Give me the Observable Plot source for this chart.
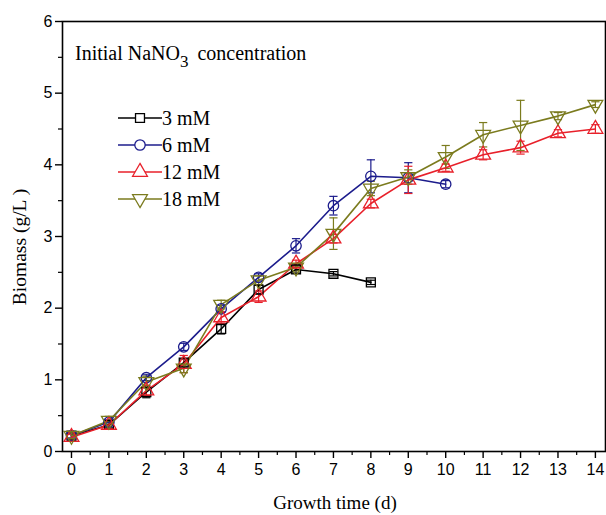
<!DOCTYPE html>
<html>
<head>
<meta charset="utf-8">
<script src="https://cdn.jsdelivr.net/npm/d3@7"></script>
<script src="https://cdn.jsdelivr.net/npm/@observablehq/plot@0.6"></script>
<style>
  html, body { margin: 0; padding: 0; background: #fff; }
  #chart { width: 606px; height: 515px; }
</style>
</head>
<body>
<div id="chart"></div>
<script>
// ---- data ----
const days = [0, 1, 2, 3, 4, 5, 6, 7, 8, 9, 10, 11, 12, 13, 14];
const seriesNames = ["3 mM", "6 mM", "12 mM", "18 mM"];
const mM3  = [0.22, 0.37, 0.83, 1.24, 1.71, 2.26, 2.54, 2.48, 2.36];
const mM3e = [0.04, 0.04, 0.08, 0.05, 0.07, 0.06, 0.05, 0.03, 0.03];
const mM6  = [0.22, 0.41, 1.03, 1.46, 1.99, 2.43, 2.87, 3.43, 3.84, 3.82, 3.73];
const mM6e = [0.03, 0.03, 0.04, 0.05, 0.05, 0.05, 0.10, 0.13, 0.23, 0.21, 0.05];
const mM12  = [0.20, 0.37, 0.85, 1.22, 1.87, 2.16, 2.62, 2.97, 3.46, 3.79, 3.96, 4.14, 4.24, 4.44, 4.50];
const mM12e = [0.04, 0.05, 0.07, 0.12, 0.08, 0.08, 0.05, 0.06, 0.06, 0.19, 0.05, 0.07, 0.09, 0.05, 0.06];
const mM18  = [0.22, 0.43, 0.97, 1.16, 2.05, 2.39, 2.57, 3.04, 3.67, 3.83, 4.11, 4.42, 4.55, 4.68, 4.84];
const mM18e = [0.04, 0.06, 0.08, 0.06, 0.06, 0.06, 0.05, 0.22, 0.10, 0.10, 0.16, 0.17, 0.35, 0.05, 0.04];
const colors = ["#000000", "#1c1c8c", "#e8202a", "#7b7b1e"];
const yTicks = [0, 1, 2, 3, 4, 5, 6];
const xLabel = "Growth time (d)";
const yLabel = "Biomass (g/L )";

// custom downward triangle symbol
const triangleDown = {
  draw(context, size) {
    const y = -Math.sqrt(size / (Math.sqrt(3) * 3));
    context.moveTo(0, -y * 2);
    context.lineTo(-Math.sqrt(3) * y, y);
    context.lineTo(Math.sqrt(3) * y, y);
    context.closePath();
  }
};
const symbols = ["square", "circle", "triangle", triangleDown];
const symbolSizes = [80, 85, 95, 95];

const allVals = [mM3, mM6, mM12, mM18];
const allErrs = [mM3e, mM6e, mM12e, mM18e];
const rows = [];
allVals.forEach((vals, s) => {
  vals.forEach((v, i) => rows.push({series: seriesNames[s], s, x: days[i], y: v, e: allErrs[s][i]}));
});

const halfTicks = d3.range(0.5, 14.5, 1);
const halfY = d3.range(0.5, 6, 1);
const capHalf = 0.11;

const marks = [];
// error bars
seriesNames.forEach((name, s) => {
  const data = rows.filter(d => d.s === s);
  marks.push(Plot.ruleX(data, {x: "x", y1: d => d.y - d.e, y2: d => d.y + d.e, stroke: colors[s], strokeWidth: 1.2}));
  marks.push(Plot.link(data, {x1: d => d.x - capHalf, x2: d => d.x + capHalf, y1: d => d.y + d.e, y2: d => d.y + d.e, stroke: colors[s], strokeWidth: 1.2}));
  marks.push(Plot.link(data, {x1: d => d.x - capHalf, x2: d => d.x + capHalf, y1: d => d.y - d.e, y2: d => d.y - d.e, stroke: colors[s], strokeWidth: 1.2}));
});
// lines and markers
seriesNames.forEach((name, s) => {
  const data = rows.filter(d => d.s === s);
  marks.push(Plot.line(data, {x: "x", y: "y", stroke: colors[s], strokeWidth: 1.6}));
});
seriesNames.forEach((name, s) => {
  const data = rows.filter(d => d.s === s);
  marks.push(Plot.dot(data, {x: "x", y: "y", symbol: () => symbols[s], r: Math.sqrt(symbolSizes[s] / Math.PI), stroke: colors[s], fill: "none", strokeWidth: 1.3}));
});

const plot = Plot.plot({
  width: 606,
  height: 515,
  marginLeft: 62,
  marginRight: 1,
  marginTop: 21,
  marginBottom: 64,
  style: {fontFamily: "Liberation Sans, Arial, sans-serif", background: "#fff", color: "#000"},
  x: {domain: [-0.24, 14.27]},
  y: {domain: [0, 6]},
  symbol: {type: "identity"},
  marks: [
    ...marks,
    Plot.frame({stroke: "#000", strokeWidth: 1.6}),
    Plot.axisX({ticks: days, tickSize: 7, tickPadding: 5, fontSize: 16, label: null, strokeWidth: 1.4}),
    Plot.axisX({ticks: halfTicks, tickSize: 4, text: null, label: null, strokeWidth: 1.2}),
    Plot.axisY({ticks: yTicks, tickFormat: "d", tickSize: 7, tickPadding: 3, fontSize: 16, label: null, strokeWidth: 1.4}),
    Plot.axisY({ticks: halfY, tickSize: 4, text: null, label: null, strokeWidth: 1.2})
  ]
});

document.getElementById("chart").appendChild(plot);

const svg = d3.select(plot);
const serif = "Liberation Serif, Times New Roman, serif";
// axis titles
svg.append("text").attr("x", 335).attr("y", 509).attr("text-anchor", "middle")
  .attr("font-family", serif).attr("font-size", 19).attr("fill", "#000").text(xLabel);
svg.append("text").attr("transform", "translate(26,247) rotate(-90)").attr("text-anchor", "middle")
  .attr("font-family", serif).attr("font-size", 19.5).attr("fill", "#000").text(yLabel);

// legend inside the plot
const g = svg.append("g").attr("font-family", serif).attr("fill", "#000").attr("text-anchor", "start");
const title = g.append("text").attr("x", 75).attr("y", 60).attr("font-size", 20);
title.append("tspan").text("Initial NaNO");
title.append("tspan").attr("dy", 7).attr("font-size", 17).text("3");
title.append("tspan").attr("dy", -7).attr("dx", 4).text(" concentration");

const d3Symbols = [d3.symbolSquare, d3.symbolCircle, d3.symbolTriangle, triangleDown];
seriesNames.forEach((name, s) => {
  const cy = 118 + s * 27;
  g.append("line").attr("x1", 118).attr("x2", 162).attr("y1", cy).attr("y2", cy)
    .attr("stroke", colors[s]).attr("stroke-width", 1.6);
  g.append("path").attr("d", d3.symbol(d3Symbols[s], symbolSizes[s])())
    .attr("transform", `translate(140,${cy})`)
    .attr("fill", "#fff").attr("stroke", colors[s]).attr("stroke-width", 1.3);
  g.append("text").attr("x", 162).attr("y", cy + 7).attr("font-size", 20).text(name);
});
</script>
</body>
</html>
